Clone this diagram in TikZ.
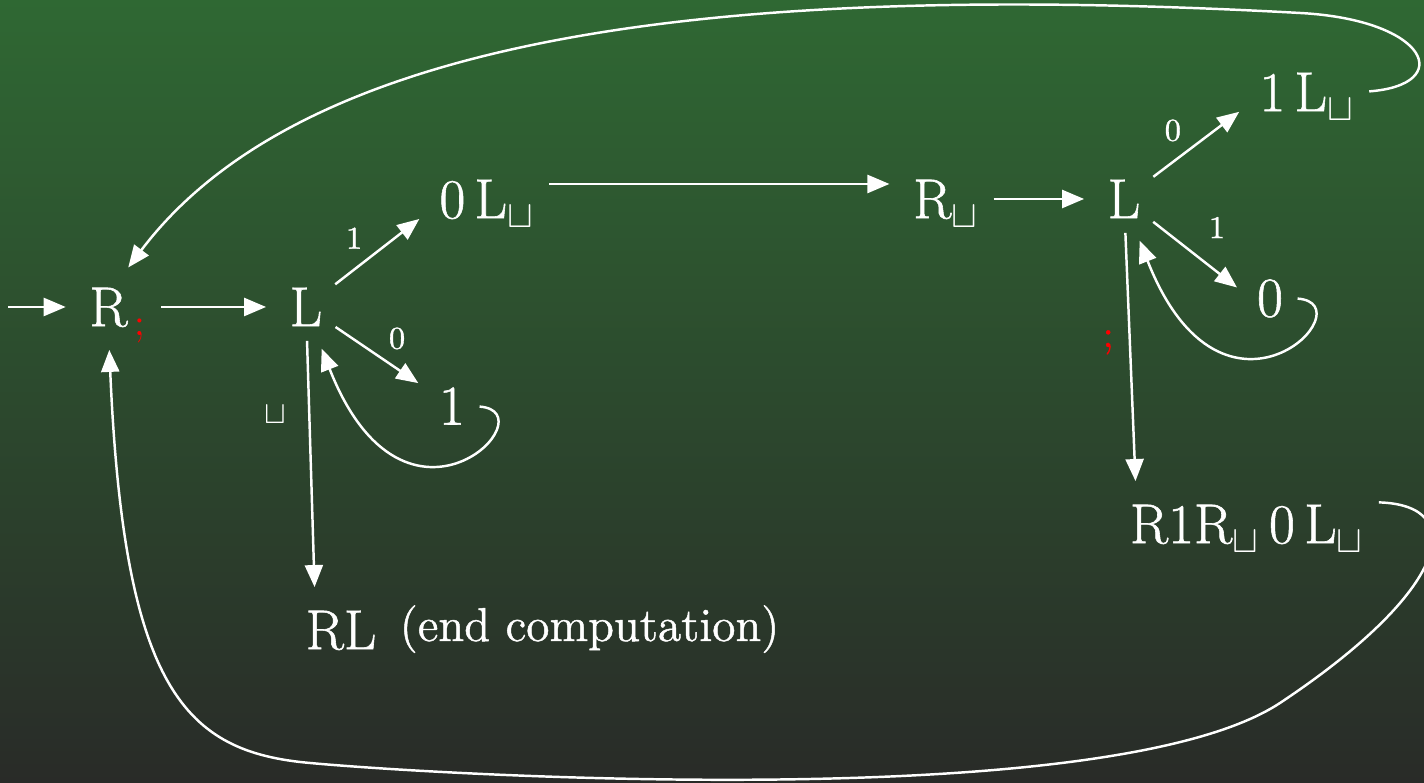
\documentclass[tikz,border=0pt]{standalone}
\usepackage{fontspec}
\setmainfont{Latin Modern Roman}[FakeBold=1]
\usepackage{tikz}
\usetikzlibrary{arrows.meta}
\definecolor{bgtop}{RGB}{47,104,51}
\definecolor{bgbot}{RGB}{41,43,40}

\begin{document}
\begin{tikzpicture}[x=0.01cm, y=0.01cm,
    state/.style={text=white, font=\fontsize{16}{19}\selectfont, inner sep=0.06cm, text depth=0pt},
    lbl/.style={text=white, font=\fontsize{9}{11}\selectfont, inner sep=2pt},
    arr/.style={white, line width=0.7pt, -{Triangle[length=2.2mm,width=1.8mm]}, shorten <=0.08cm, shorten >=0.17cm}]
    % --- background ---
    \useasboundingbox (0,0) rectangle (1424,783);
    \shade[top color=bgtop, bottom color=bgbot] (0,0) rectangle (1424,783);

    % --- left part: R; and first L ---
    \coordinate (start) at (0,476);
    \node[state] (r0) at (118,476) {R$_{\,\color{red};}$};
    \node[state] (l1) at (306,476) {L};
    \node[state] (zl) at (487,584) {0\,L$_\sqcup$};
    \node[state] (one) at (452,377) {1};
    \node[state] (rl) at (341,153) {RL};
    \node[text=white, font=\fontsize{13.5}{16}\selectfont, inner sep=0.06cm, anchor=base west] (note) at (393,142) {(end computation)};

    \draw[arr] (start) -- (r0);
    \draw[arr] (r0) -- (l1);
    \draw[arr] (l1) -- (zl.190) node[lbl, pos=0.4, above left] (c1) {1};
    \draw[arr] (l1) -- (one) node[lbl, pos=0.5, above right] (c0) {0};
    \draw[arr] (l1) -- (rl.135) node[lbl, pos=0.3, left=0.15cm] (cb) {$\sqcup$};
    \draw[arr] (one.east) .. controls +(79,-6) and +(90,-229) .. (l1.290);

    % --- right part: R_ and second L ---
    \node[state] (rb) at (946,584) {R$_\sqcup$};
    \node[state] (l2) at (1124,584) {L};
    \node[state] (ol) at (1307,691) {1\,L$_\sqcup$};
    \node[state] (zero) at (1270,485) {0};
    \node[state] (rr) at (1247,259) {R1R$_\sqcup$\,0\,L$_\sqcup$};

    \draw[arr] ([yshift=0.15cm]zl.east) -- ([yshift=0.15cm]rb.west);
    \draw[arr] (rb) -- (l2);
    \draw[arr] (l2) -- (ol.190) node[lbl, pos=0.4, above left] (d0) {0};
    \draw[arr] (l2) -- (zero.west) node[lbl, pos=0.45, above right=2pt] (d1) {1};
    \draw[arr] (l2) -- ([xshift=0.13cm]rr.north west) node[lbl, pos=0.43, left=0.08cm, text=red, font=\fontsize{11}{13}\selectfont] (semi) {;};
    \draw[arr] (zero.east) .. controls +(79,-6) and +(90,-229) .. (l2.290);

    % --- loops back to R; ---
    \draw[arr] (ol.east) .. controls (1455,698) and (1430,763) .. (1300,770)
        .. controls (700,803) and (300,743) .. (r0.north);
    \draw[arr] (rr.10) .. controls (1470,278) and (1450,193) .. (1280,80)
        .. controls (1110,-32) and (440,8) .. (310,20)
        .. controls (185,31) and (124,93) .. (r0.250);
\end{tikzpicture}
\end{document}
